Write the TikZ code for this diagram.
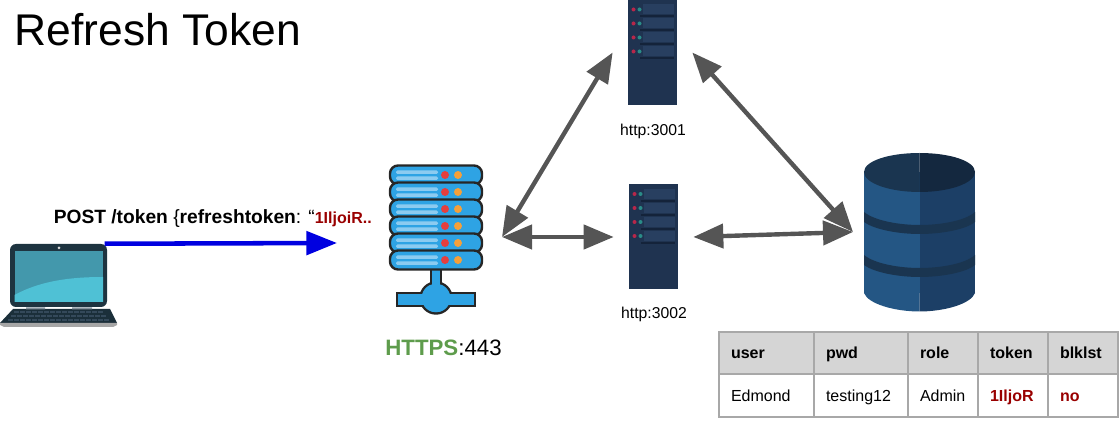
\documentclass[tikz,border=0pt]{standalone}
\usepackage{fontspec}
\setmainfont{Liberation Sans}
\usetikzlibrary{arrows.meta}
\definecolor{arrowgray}{HTML}{555555}
\definecolor{postblue}{HTML}{0000E0}
\definecolor{tokenred}{HTML}{990000}
\definecolor{httpsgreen}{HTML}{5E9C4C}
\definecolor{rackbody}{HTML}{1F3350}
\definecolor{rackstrip}{HTML}{283F60}
\definecolor{rackline}{HTML}{14233A}
\definecolor{rackred}{HTML}{B8274A}
\definecolor{rackteal}{HTML}{2A8C88}
\definecolor{lbblue}{HTML}{2EA3E4}
\definecolor{lbbar}{HTML}{8CCBF0}
\definecolor{lbred}{HTML}{E53E3E}
\definecolor{lborange}{HTML}{F5A03A}
\definecolor{dbleft}{HTML}{245684}
\definecolor{dbright}{HTML}{1C3F66}
\definecolor{dbtopl}{HTML}{1A3550}
\definecolor{dbtopr}{HTML}{14283F}
\definecolor{cellline}{HTML}{A8A8A8}
\definecolor{cellhead}{HTML}{D5D5D5}
\definecolor{lapdark}{HTML}{1E3440}
\definecolor{lapkeys}{HTML}{34495A}
\definecolor{lapscreen}{HTML}{4398AC}
\definecolor{lapglare}{HTML}{4FC1D5}
\begin{document}
\begin{tikzpicture}[x=0.75pt, y=-0.75pt, inner sep=0pt]
    % Define styles
    \tikzstyle{rack} = [rectangle, minimum width=36.75pt, minimum height=78.75pt, outer xsep=11.5pt, fill=rackbody]
    \tikzstyle{caption} = [font=\fontsize{11.8}{14}\selectfont]
    \tikzstyle{twoway} = [line width=3.3pt, draw=arrowgray, {Triangle[length=22.5pt,width=18pt]}-{Triangle[length=22.5pt,width=18pt]}]
    \tikzstyle{postarrow} = [line width=3.4pt, draw=postblue, -{Triangle[length=23pt,width=17.5pt]}]
    \tikzstyle{headcell} = [rectangle, draw=cellline, line width=1.1pt, outer sep=0pt, fill=cellhead, minimum height=31.5pt, text height=10pt, text depth=1.5pt, font=\fontsize{12}{14}\selectfont\bfseries, align=left]
    \tikzstyle{bodycell} = [rectangle, draw=cellline, line width=1.1pt, outer sep=0pt, fill=white, minimum height=32.25pt, text height=10.8pt, text depth=1.5pt, font=\fontsize{12}{14}\selectfont, align=left]
    \useasboundingbox (0,0) rectangle (1120,427);

    % Title
    \node [anchor=base west, font=\fontsize{33.3}{40}\selectfont] (title) at (14.5,46) {Refresh Token};

    % Laptop
    \node [rectangle, rounded corners=4.5pt, minimum width=72.75pt, minimum height=47.25pt, fill=lapdark] (laptop) at (58.5,275.5) {};
    \fill [fill=lapdark!90!black] (13,309) -- (110,309) -- (117,323) -- (0,323) -- cycle;
    \fill [fill=black!35] (0,323) -- (117,323) -- (117,325) -- (113,327) -- (4,327) -- (0,325) -- cycle;
    \fill [fill=lapkeys!60] (26,307.5) rectangle (45,309.5) (72,307.5) rectangle (92,309.5);
    \fill [fill=white!85!black] (59,248) circle (1.5);
    \fill [fill=lapscreen] (14.5,251) rectangle (103,302);
    \fill [fill=lapglare] (14.5,295) .. controls (40,281) and (70,277) .. (103,277) -- (103,302) -- (14.5,302) -- cycle;
    \foreach \kr/\kl/\kn in {311.5/14/15, 315/11/16, 319/8/17}
        \foreach \k in {1,...,\kn}
            \fill [fill=lapkeys] ({\kl+(\k-1)*6},\kr) rectangle ++(4.5,2);

    % Nodes
    \node [rectangle, minimum width=69pt, minimum height=112pt, outer xsep=15pt] (gateway) at (436,237) {};
    \node [rack] (srvA) at (652.5,52.5) {};
    \node [rack] (srvB) at (653.5,237) {};
    \node [rectangle, minimum width=83.25pt, minimum height=118.5pt, outer xsep=8.25pt] (db) at (919.5,232) {};
    \coordinate (posttip) at (337,243);

    % Gateway foot
    \draw [line width=1.8pt, draw=black!85, fill=lbblue] (397,293) rectangle (475,306);
    \draw [line width=1.8pt, draw=black!85, fill=lbblue] (436,298) circle (15.5);
    \draw [line width=1.8pt, draw=black!85, fill=lbblue] (431,268) rectangle (441,290);
    \fill [fill=lbblue] (398.2,294.2) rectangle (473.8,304.8);
    \fill [fill=lbblue] (436,298) circle (14.2);
    \fill [fill=lbblue] (432.2,268) rectangle (439.8,294);

    % Gateway rows
    \foreach \gy in {175,192,209,226,243,260} {
        \draw [line width=1.8pt, draw=black!85, fill=lbblue, rounded corners=6pt] (390,\gy-9.5) rectangle (482,\gy+9.5);
        \fill [fill=lbbar, rounded corners=1pt] (396,\gy-4.5) rectangle (438,\gy-1);
        \fill [fill=lbbar, rounded corners=1pt] (396,\gy+1.5) rectangle (438,\gy+5);
        \fill [fill=lbred] (445,\gy) circle (4);
        \fill [fill=lborange] (458,\gy) circle (4);
    }

    % Rack rows
    \foreach \px/\py in {652.5/52.5,653.5/237} {
        \foreach \dy in {-35,-21,-7,7} {
            \fill [fill=rackstrip] (\px-10,\py+\dy-13) rectangle (\px+21,\py+\dy-3);
            \fill [fill=rackline] (\px-13,\py+\dy-2) rectangle (\px+21,\py+\dy);
            \fill [fill=rackred] (\px-19,\py+\dy-8) circle (2);
            \fill [fill=rackteal] (\px-13,\py+\dy-8) circle (2);
        }
    }

    % Database
    \fill [fill=dbleft] (864,172) rectangle (919.5,293);
    \fill [fill=dbright] (919.5,172) rectangle (975,293);
    \fill [fill=dbleft] (864,293) .. controls (868,304) and (895,311.5) .. (919.5,311.5) -- (919.5,293) -- cycle;
    \fill [fill=dbright] (975,293) .. controls (971,304) and (944,311.5) .. (919.5,311.5) -- (919.5,293) -- cycle;
    \fill [fill=dbtopl] (919.5,153) .. controls (889,153) and (864,161) .. (864,172) .. controls (864,183) and (889,192) .. (919.5,192) -- cycle;
    \fill [fill=dbtopr] (919.5,153) .. controls (950,153) and (975,161) .. (975,172) .. controls (975,183) and (950,192) .. (919.5,192) -- cycle;
    \foreach \by in {212,255}
        \fill [fill=dbtopl] (864,\by) .. controls (875,\by+9) and (900,\by+13) .. (919.5,\by+13) .. controls (940,\by+13) and (965,\by+9) .. (975,\by) -- (975,\by+10) .. controls (965,\by+18) and (940,\by+22) .. (919.5,\by+22) .. controls (900,\by+22) and (875,\by+18) .. (864,\by+10) -- cycle;

    % Captions
    \node [caption] (capA) at (653,131.5) {http:3001};
    \node [caption] (capB) at (654,314.5) {http:3002};
    \node [font=\fontsize{16.7}{20}\selectfont] (capGw) at (443.5,348) {\textcolor{httpsgreen}{\textbf{HTTPS}}:443};
    \node [anchor=base west] (postlabel) at (53.5,224) {\fontsize{14.4}{16}\selectfont\textbf{POST /token }\{\textbf{refreshtoken}: “\textcolor{tokenred}{\fontsize{12}{14}\selectfont\textbf{1IljoiR..}}};

    % Arrows
    \draw [postarrow, shorten <=-2pt] (laptop.north east) -- (posttip);
    \draw [twoway] (gateway.east) -- (srvA.west);
    \draw [twoway] (gateway.east) -- (srvB.west);
    \draw [twoway] (srvA.east) -- (db.west);
    \draw [twoway] (srvB.east) -- (db.west);

    % Table
    \foreach \cx/\cw/\ch/\cb/\cn in {719/95/user/Edmond/a, 814/94/pwd/testing12/b, 908/70/role/Admin/c, 978/70/token/\textcolor{tokenred}{\textbf{1IljoR}}/d, 1048/70/blklst/\textcolor{tokenred}{\textbf{no}}/e} {
        \node [headcell, anchor=west, minimum width=\cw*0.75pt, text width={(\cw-24)*0.75pt}] (head\cn) at (\cx,353) {\ch};
        \node [bodycell, anchor=west, minimum width=\cw*0.75pt, text width={(\cw-24)*0.75pt}] (cell\cn) at (\cx,395.5) {\cb};
    }
\end{tikzpicture}
\end{document}
